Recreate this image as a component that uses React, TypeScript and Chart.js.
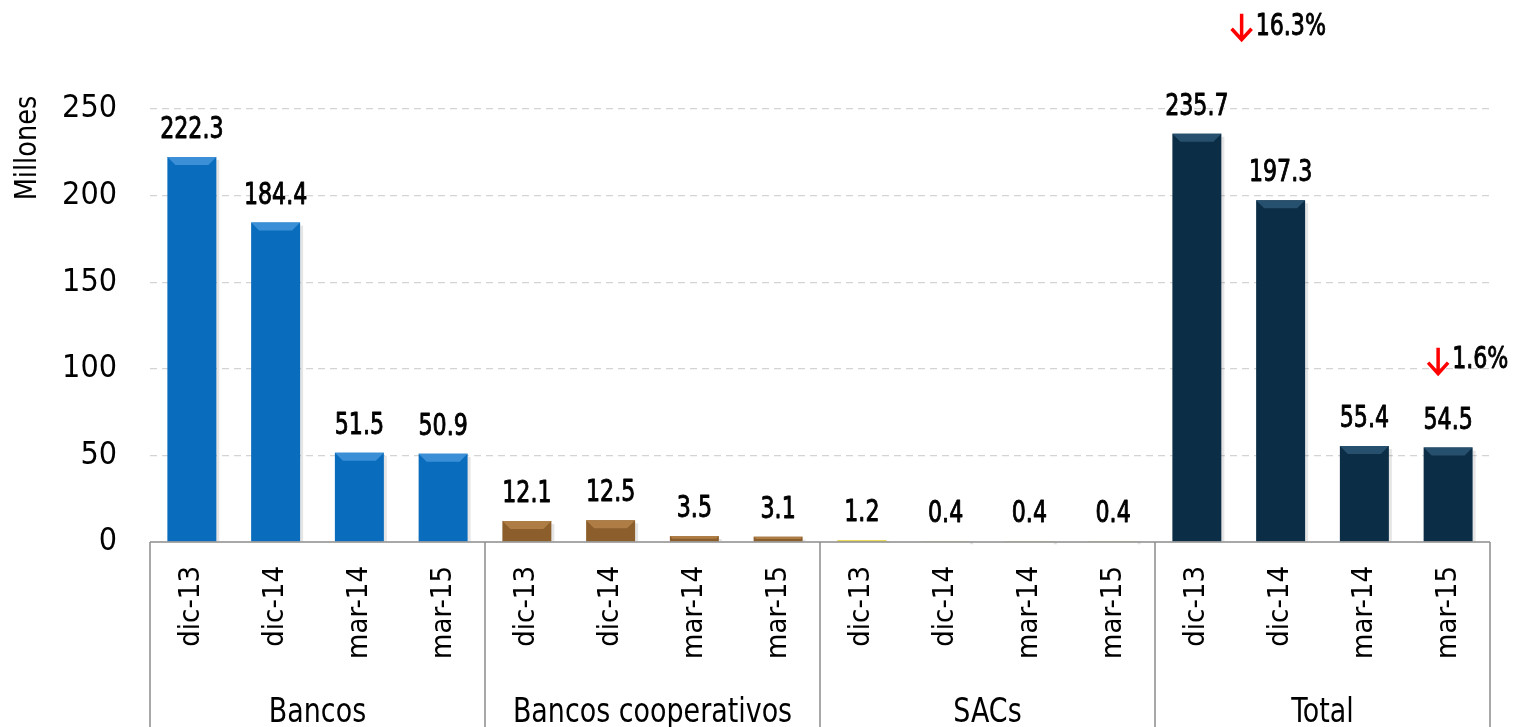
import React, { useEffect, useRef } from "react";
import { Chart, registerables } from "chart.js";

Chart.register(...registerables);

// ---- data ----
const periods = ["dic-13", "dic-14", "mar-14", "mar-15"];
const groups = ["Bancos", "Bancos cooperativos", "SACs", "Total"];
const bancos = [222.3, 184.4, 51.5, 50.9];
const cooperativos = [12.1, 12.5, 3.5, 3.1];
const sacs = [1.2, 0.4, 0.4, 0.4];
const total = [235.7, 197.3, 55.4, 54.5];
const yTickValues = [0, 50, 100, 150, 200, 250];
const axisTitle = "Millones";
// change annotations: bar index they refer to, and label
const changeLabels = ["16.3%", "1.6%"];
const changeBarIndex = [13, 15];
const changeLevels = [297.5, 104.7];

// ---- style ----
const FONT = "'Liberation Sans Narrow', 'Arial Narrow', 'DejaVu Sans Condensed', sans-serif";
const groupColors = ["#0a6cbc", "#8c5e2b", "#d9cc2c", "#0b2d46"];
const bevelColors = ["#3a8fd6", "#ad7d45", "#ece068", "#27506e"];

const allValues = [...bancos, ...cooperativos, ...sacs, ...total];
const allLabels = [...periods, ...periods, ...periods, ...periods];
const barColors = allValues.map((_, i) => groupColors[Math.floor(i / periods.length)]);

function narrowText(ctx: any, text: string, x: number, y: number, sx: number, align: string, strokeW = 0) {
  ctx.save();
  ctx.translate(x, y);
  ctx.scale(sx, 1);
  ctx.textAlign = align;
  ctx.fillText(text, 0, 0);
  if (strokeW > 0) {
    ctx.strokeStyle = ctx.fillStyle;
    ctx.lineWidth = strokeW;
    ctx.lineJoin = "round";
    ctx.strokeText(text, 0, 0);
  }
  ctx.restore();
}

const decor = {
  id: "decor",
  afterDatasetsDraw(chart: any) {
    const ctx = chart.ctx;
    const meta = chart.getDatasetMeta(0);
    meta.data.forEach((bar: any, i: number) => {
      const { x, y, base, width } = bar.getProps(["x", "y", "base", "width"], true);
      const h = base - y;
      const b = Math.min(8, h / 2);
      const left = x - width / 2;
      const right = x + width / 2;
      const g = Math.floor(i / periods.length);
      ctx.save();
      ctx.fillStyle = "rgba(0,0,0,0.10)";
      ctx.fillRect(right, y + 3, 3, h - 3);
      if (h > 1) {
        ctx.fillStyle = bevelColors[g];
        ctx.beginPath();
        ctx.moveTo(left, y);
        ctx.lineTo(right, y);
        ctx.lineTo(right - b, y + b);
        ctx.lineTo(left + b, y + b);
        ctx.closePath();
        ctx.fill();
      }
      ctx.fillStyle = "#000";
      ctx.font = `30px ${FONT}`;
      ctx.textBaseline = "alphabetic";
      narrowText(ctx, allValues[i].toFixed(1), x, y - 19, 0.82, "center", 0.9);
      ctx.restore();
    });
  },
  afterDraw(chart: any) {
    const ctx = chart.ctx;
    const xs = chart.scales.x;
    const ys = chart.scales.y;
    const area = chart.chartArea;
    const top = area.bottom;
    const bottom = chart.height;
    ctx.save();
    // category box
    ctx.strokeStyle = "#8c8c8c";
    ctx.lineWidth = 1.5;
    ctx.beginPath();
    ctx.moveTo(area.left, top);
    ctx.lineTo(area.right, top);
    const bounds = [area.left];
    for (let gi = 1; gi < groups.length; gi++) {
      const k = gi * periods.length;
      bounds.push((xs.getPixelForValue(k - 1) + xs.getPixelForValue(k)) / 2);
    }
    bounds.push(area.right);
    bounds.forEach((bx) => {
      ctx.moveTo(bx, top);
      ctx.lineTo(bx, bottom);
    });
    ctx.stroke();

    // group labels
    ctx.fillStyle = "#000";
    ctx.font = `34px ${FONT}`;
    ctx.textBaseline = "alphabetic";
    groups.forEach((name, gi) => {
      const a = xs.getPixelForValue(gi * periods.length);
      const z = xs.getPixelForValue(gi * periods.length + periods.length - 1);
      narrowText(ctx, name, (a + z) / 2, 722, 0.88, "center");
    });

    // axis title
    ctx.save();
    ctx.translate(28, 148);
    ctx.rotate(-Math.PI / 2);
    ctx.font = `30px ${FONT}`;
    ctx.textAlign = "center";
    ctx.textBaseline = "middle";
    ctx.scale(0.95, 1);
    ctx.fillText(axisTitle, 0, 0);
    ctx.restore();

    // change annotations
    const arrowDx = [-39, -10];
    changeLabels.forEach((lab, k) => {
      const ax = xs.getPixelForValue(changeBarIndex[k]) + arrowDx[k];
      const cy = ys.getPixelForValue(changeLevels[k]);
      ctx.strokeStyle = "#ff0000";
      ctx.lineWidth = 3.5;
      ctx.lineCap = "butt";
      ctx.beginPath();
      ctx.moveTo(ax, cy - 13);
      ctx.lineTo(ax, cy + 12);
      ctx.moveTo(ax - 10, cy + 2);
      ctx.lineTo(ax, cy + 13);
      ctx.lineTo(ax + 10, cy + 2);
      ctx.stroke();
      ctx.fillStyle = "#000";
      ctx.font = `30px ${FONT}`;
      ctx.textBaseline = "middle";
      narrowText(ctx, lab, ax + 14, cy, 0.82, "left", 0.9);
    });
    ctx.restore();
  },
};

export default function App() {
  const ref = useRef<HTMLCanvasElement | null>(null);
  useEffect(() => {
    if (!ref.current) return;
    const chart = new Chart(ref.current, {
      type: "bar",
      data: {
        labels: allLabels,
        datasets: [
          {
            data: allValues,
            backgroundColor: barColors,
            borderWidth: 0,
            categoryPercentage: 1,
            barPercentage: 0.585,
          },
        ],
      },
      options: {
        animation: false,
        responsive: true,
        maintainAspectRatio: false,
        layout: { padding: { top: 109, right: 27, left: 0, bottom: 0 } },
        plugins: {
          legend: { display: false },
          tooltip: { enabled: false },
        },
        scales: {
          x: {
            grid: { display: false, drawTicks: false },
            border: { display: false },
            ticks: {
              autoSkip: false,
              maxRotation: 90,
              minRotation: 90,
              padding: 24,
              color: "#000",
              font: { family: FONT, size: 29 },
            },
            afterFit(scale: any) {
              scale.height = 185;
            },
          },
          y: {
            min: 0,
            max: 250,
            afterBuildTicks(scale: any) {
              scale.ticks = yTickValues.map((v) => ({ value: v }));
            },
            grid: {
              drawTicks: false,
              color: (c: any) => (c.tick && c.tick.value === 0 ? "rgba(0,0,0,0)" : "#d4d4d4"),
              lineWidth: 1.2,
            },
            border: { display: false, dash: [7, 5] },
            ticks: {
              padding: 33,
              color: "#000",
              font: { family: FONT, size: 32 },
            },
            afterFit(scale: any) {
              scale.width = 150;
            },
          },
        },
      },
      plugins: [decor],
    });
    return () => chart.destroy();
  }, []);
  return (
    <div style={{ position: "absolute", left: 0, top: 0, width: 1517, height: 727, background: "#fff" }}>
      <canvas ref={ref} />
    </div>
  );
}
